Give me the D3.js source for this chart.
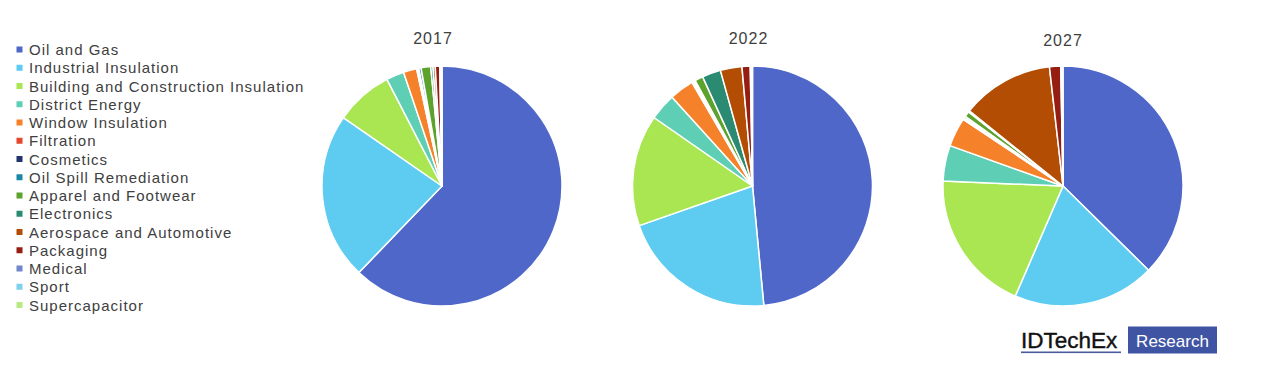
<!DOCTYPE html>
<html>
<head>
<meta charset="utf-8">
<script src="https://cdn.jsdelivr.net/npm/d3@7"></script>
<style>
  html, body { margin: 0; padding: 0; background: #ffffff; }
  svg { display: block; }
</style>
</head>
<body>
<svg id="chart" width="1284" height="390"></svg>
<script>
const categories = [
  "Oil and Gas", "Industrial Insulation", "Building and Construction Insulation",
  "District Energy", "Window Insulation", "Filtration", "Cosmetics",
  "Oil Spill Remediation", "Apparel and Footwear", "Electronics",
  "Aerospace and Automotive", "Packaging", "Medical", "Sport", "Supercapacitor"
];
const colors = [
  "#4f67c8", "#5ecbf1", "#a9e651", "#5ecfb4", "#f5812a", "#e4472c", "#22336f",
  "#1a86a8", "#5ca22c", "#2a8a72", "#b24d03", "#961d12", "#7286cc", "#7dd0ee", "#b9ea82"
];
const years = ["2017", "2022", "2027"];
const values2017 = [62.3, 22.5, 7.8, 2.4, 1.8, 0.2, 0.1, 0.3, 1.3, 0.3, 0.3, 0.6, 0.1, 0.1, 0.1];
const values2022 = [48.4, 21.1, 15.0, 3.6, 3.3, 0.2, 0.1, 0.2, 1.1, 2.5, 2.9, 1.1, 0.1, 0.1, 0.1];
const values2027 = [37.3, 19.1, 19.1, 4.8, 3.9, 0.2, 0.1, 0.2, 0.7, 0.2, 12.4, 1.5, 0.1, 0.1, 0.1];
const series = [values2017, values2022, values2027];

const svg = d3.select("#chart");
const color = d3.scaleOrdinal().domain(categories).range(colors);

// Legend
const legend = svg.append("g").attr("transform", "translate(0,0)");
const ly = d3.scalePoint().domain(categories).range([55, 310.5]);
categories.forEach(c => {
  const g = legend.append("g").attr("transform", `translate(0,${ly(c)})`);
  g.append("rect").attr("x", 16.5).attr("y", -8.5).attr("width", 6).attr("height", 6).attr("fill", color(c));
  g.append("text").attr("x", 29).attr("y", 0)
    .attr("font-family", "Liberation Sans, Arial, sans-serif")
    .attr("font-size", 15).attr("letter-spacing", "1px")
    .attr("fill", "#404040").text(c);
});

// Pies
const centersX = d3.scalePoint().domain(years).range([442, 1063]);
const cy = 186, r = 120;
const pie = d3.pie().sort(null).value(d => d.v);
const arc = d3.arc().innerRadius(0).outerRadius(r);
const titleY = [43.5, 43.5, 46];

years.forEach((yr, i) => {
  const data = categories.map((c, j) => ({ c, v: series[i][j] }));
  const g = svg.append("g").attr("transform", `translate(${centersX(yr)},${cy})`);
  g.selectAll("path").data(pie(data)).join("path")
    .attr("d", arc)
    .attr("fill", d => color(d.data.c))
    .attr("stroke", "#ffffff").attr("stroke-width", 1.5).attr("stroke-linejoin", "round");
  svg.append("text").attr("x", centersX(yr) - 9 + (i === 2 ? 9 : (i === 1 ? 5 : 0))).attr("y", titleY[i])
    .attr("text-anchor", "middle")
    .attr("font-family", "Liberation Sans, Arial, sans-serif")
    .attr("font-size", 16).attr("letter-spacing", "1px")
    .attr("fill", "#404040").text(yr);
});

// Logo
const logo = svg.append("g");
logo.append("text").attr("x", 1021).attr("y", 347.5)
  .attr("font-family", "Liberation Sans, Arial, sans-serif")
  .attr("font-size", 22.5).attr("fill", "#111111").attr("stroke", "#111111").attr("stroke-width", 0.4)
  .text("IDTechEx");
logo.append("rect").attr("x", 1021).attr("y", 351.5).attr("width", 100).attr("height", 1.6).attr("fill", "#4a5a9c");
logo.append("rect").attr("x", 1128).attr("y", 326.5).attr("width", 89).attr("height", 27).attr("fill", "#3f55a4");
logo.append("text").attr("x", 1172.5).attr("y", 347).attr("text-anchor", "middle")
  .attr("font-family", "Liberation Sans, Arial, sans-serif")
  .attr("font-size", 17).attr("fill", "#ffffff").text("Research");
</script>
</body>
</html>
